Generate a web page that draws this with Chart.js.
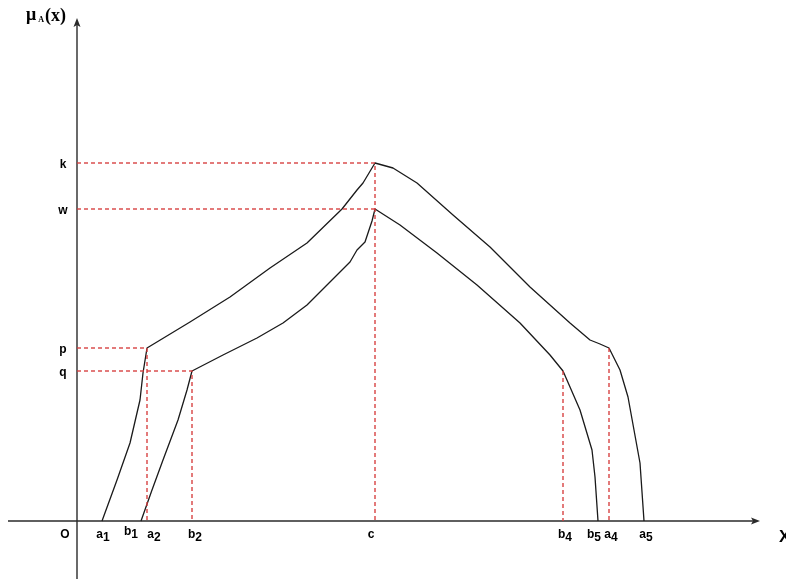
<!DOCTYPE html>
<html>
<head>
<meta charset="utf-8">
<script src="https://cdn.jsdelivr.net/npm/chart.js@4"></script>
<style>
  html, body { margin: 0; padding: 0; background: #fff; overflow: hidden; }
  canvas { display: block; }
</style>
</head>
<body>
<canvas id="chart" width="786" height="579"></canvas>
<script>
// Marked points on the x axis and their positions
const xMarks = ['a1', 'b1', 'a2', 'b2', 'c', 'b4', 'b5', 'a4', 'a5'];
const xMarkValues = [25, 64, 70, 115, 298, 486, 521, 532, 567];

// Membership levels on the vertical axis
const levels = ['k', 'w', 'p', 'q'];
const levelValues = [358, 312, 173, 150];

// Upper membership curve
const outerX = [25, 40, 53, 63, 66, 70, 113, 153, 193, 230, 265, 280, 286, 298,
                316, 340, 376, 413, 453, 493, 513, 523, 532, 543, 551, 563, 567];
const outerY = [0, 41, 78, 121, 148, 173, 199, 224, 253, 278, 312, 331, 338, 358,
                353, 338, 306, 274, 234, 198, 181, 177, 173, 151, 124, 58, 0];

// Lower membership curve
const innerX = [64, 75, 86, 101, 110, 115, 146, 180, 206, 230, 253, 273, 280, 288, 295, 298,
                323, 360, 400, 443, 473, 486, 493, 503, 515, 518, 521];
const innerY = [0, 31, 61, 101, 131, 150, 166, 183, 198, 216, 239, 259, 271, 279, 300, 312,
                296, 268, 236, 198, 166, 150, 134, 111, 71, 44, 0];

const X = Object.fromEntries(xMarks.map((m, i) => [m, xMarkValues[i]]));
const L = Object.fromEntries(levels.map((m, i) => [m, levelValues[i]]));

const toPts = (xs, ys) => xs.map((x, i) => ({ x, y: ys[i] }));

// Dashed projection lines from the curve corners to both axes
const guides = [
  [[0, L.k], [X.c, L.k], [X.c, 0]],
  [[0, L.w], [X.c, L.w]],
  [[0, L.p], [X.a2, L.p], [X.a2, 0]],
  [[0, L.q], [X.b2, L.q], [X.b2, 0]],
  [[X.b4, L.q], [X.b4, 0]],
  [[X.a4, L.p], [X.a4, 0]]
];

const curveStyle = {
  showLine: true, fill: false, borderColor: '#1a1a1a', borderWidth: 1.3,
  pointRadius: 0, tension: 0
};
const guideStyle = {
  showLine: true, fill: false, borderColor: 'rgba(214,60,60,0.9)', borderWidth: 1.5,
  borderDash: [4, 3], pointRadius: 0, tension: 0
};

const datasets = [
  ...guides.map(g => Object.assign({ data: g.map(([x, y]) => ({ x, y })) }, guideStyle)),
  Object.assign({ data: toPts(outerX, outerY) }, curveStyle),
  Object.assign({ data: toPts(innerX, innerY) }, curveStyle)
];

// Small nudges so neighbouring labels do not collide
const labelNudge = { a1: [1, 0], b1: [-10, -3], a2: [7, 0], b2: [3, 0], c: [-4, 0],
                     b4: [2, 0], b5: [-4, 0], a4: [2, 0], a5: [2, 0] };

const axesAndLabels = {
  id: 'axesAndLabels',
  beforeDatasetsDraw(chart) {
    const { ctx, scales: { x, y } } = chart;
    const ox = x.getPixelForValue(0), oy = y.getPixelForValue(0);
    ctx.save();
    ctx.strokeStyle = '#2a2a2a';
    ctx.fillStyle = '#2a2a2a';
    ctx.lineWidth = 1.4;
    // horizontal axis
    const xEnd = 760;
    ctx.beginPath(); ctx.moveTo(8, oy); ctx.lineTo(xEnd - 4, oy); ctx.stroke();
    ctx.beginPath(); ctx.moveTo(xEnd, oy); ctx.lineTo(xEnd - 9, oy - 3.5); ctx.lineTo(xEnd - 7, oy);
    ctx.lineTo(xEnd - 9, oy + 3.5); ctx.closePath(); ctx.fill();
    // vertical axis
    const yTop = 18;
    ctx.beginPath(); ctx.moveTo(ox, 579); ctx.lineTo(ox, yTop + 4); ctx.stroke();
    ctx.beginPath(); ctx.moveTo(ox, yTop); ctx.lineTo(ox - 3.5, yTop + 9); ctx.lineTo(ox, yTop + 7);
    ctx.lineTo(ox + 3.5, yTop + 9); ctx.closePath(); ctx.fill();
    ctx.restore();
  },
  afterDatasetsDraw(chart) {
    const { ctx, scales: { x, y } } = chart;
    const oy = y.getPixelForValue(0);
    ctx.save();
    ctx.fillStyle = '#000';
    ctx.font = 'bold 12px "Liberation Sans", Arial, sans-serif';
    ctx.textBaseline = 'alphabetic';
    ctx.textAlign = 'left';
    const base = oy + 17;
    xMarks.forEach((m, i) => {
      const [dx, dy] = labelNudge[m] || [0, 0];
      const cx = x.getPixelForValue(xMarkValues[i]) + dx;
      const letter = m[0], sub = m.slice(1);
      const w1 = ctx.measureText(letter).width, w2 = sub ? ctx.measureText(sub).width : 0;
      const sx = cx - (w1 + w2) / 2;
      ctx.fillText(letter, sx, base + dy);
      if (sub) ctx.fillText(sub, sx + w1, base + dy + 3);
    });
    // origin
    ctx.textAlign = 'center';
    ctx.fillText('O', 65, base);
    // level labels
    levels.forEach((m, i) => {
      ctx.fillText(m, 63, y.getPixelForValue(levelValues[i]) + 5);
    });
    // axis titles
    ctx.textAlign = 'left';
    ctx.font = 'bold 18px "Liberation Serif", "Times New Roman", serif';
    ctx.fillText('\u03BC', 26, 20);
    const mw = ctx.measureText('\u03BC').width;
    ctx.font = 'bold 8px "Liberation Serif", "Times New Roman", serif';
    ctx.fillText('A', 26 + mw + 2, 22);
    ctx.font = 'bold 18px "Liberation Serif", "Times New Roman", serif';
    ctx.fillText('(x)', 45, 21);
    ctx.font = 'bold 17px "Liberation Sans", Arial, sans-serif';
    ctx.fillText('X', 779, 542);
    ctx.restore();
  }
};

new Chart(document.getElementById('chart'), {
  type: 'scatter',
  data: { datasets },
  options: {
    responsive: false,
    animation: false,
    events: [],
    layout: { padding: 0 },
    plugins: { legend: { display: false }, tooltip: { enabled: false } },
    scales: {
      x: { type: 'linear', min: -77, max: 709, display: false },
      y: { type: 'linear', min: -58, max: 521, display: false }
    },
    elements: { line: { borderCapStyle: 'butt', borderJoinStyle: 'round' } }
  },
  plugins: [axesAndLabels]
});
</script>
</body>
</html>
